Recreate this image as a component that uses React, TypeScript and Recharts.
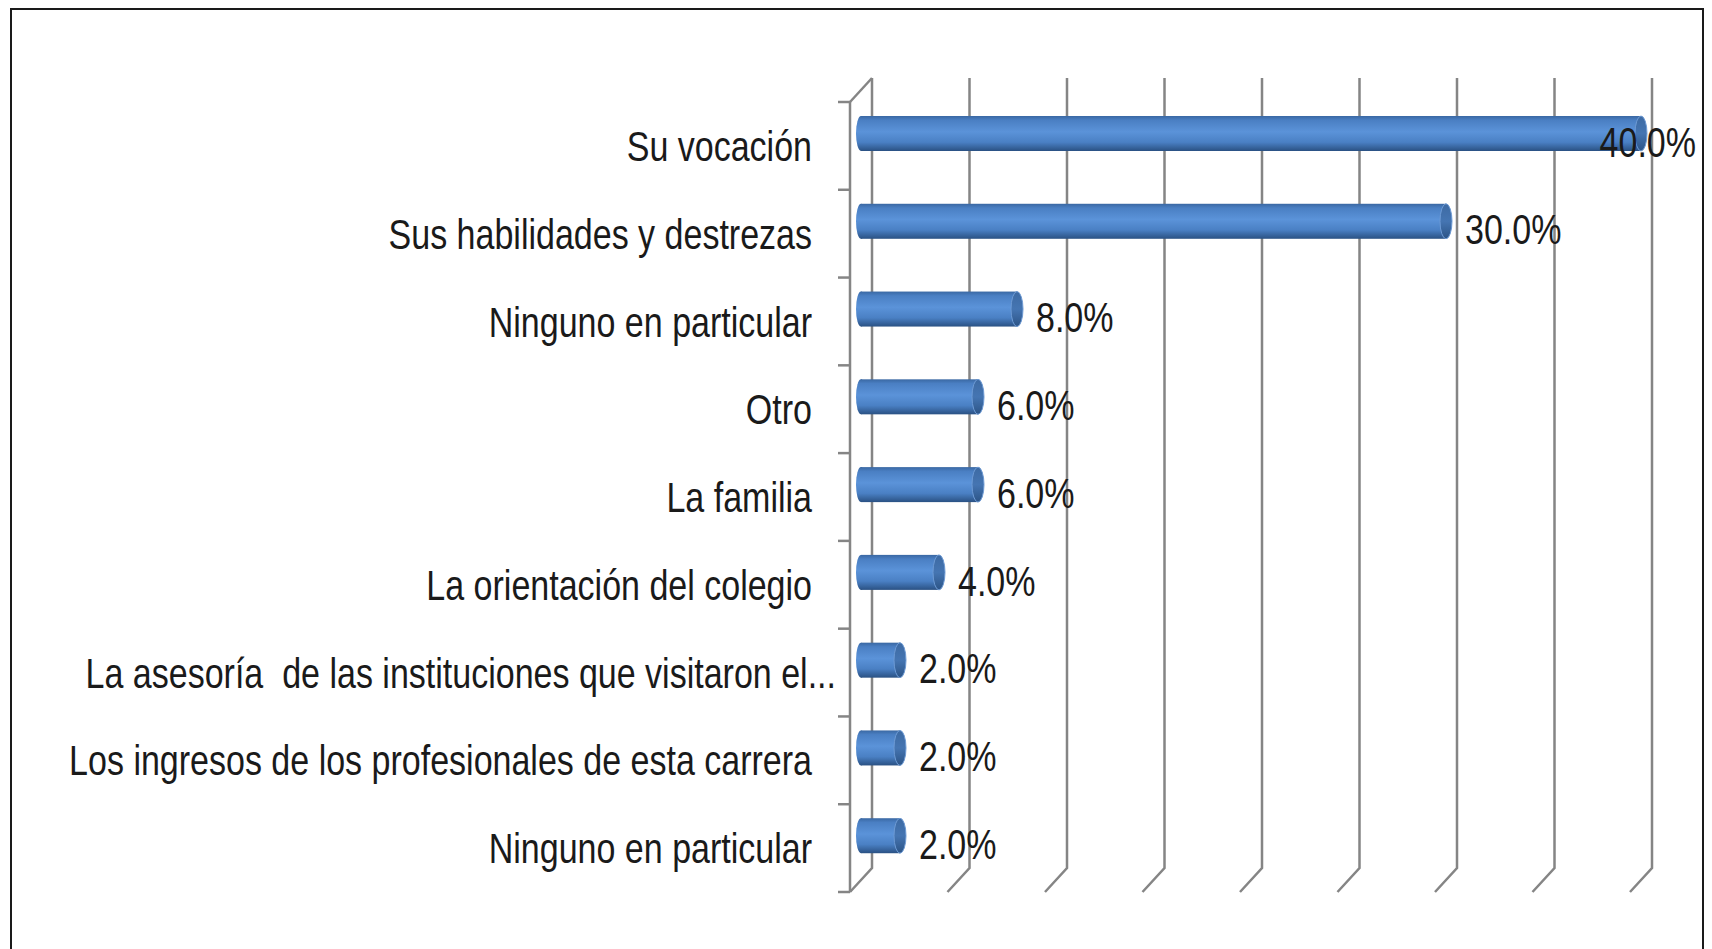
import React from 'react';
import { BarChart, Bar, XAxis, YAxis, CartesianGrid, LabelList } from 'recharts';

const categories = [
  'Su vocación',
  'Sus habilidades y destrezas',
  'Ninguno en particular',
  'Otro',
  'La familia',
  'La orientación del colegio',
  'La asesoría  de las instituciones que visitaron el...',
  'Los ingresos de los profesionales de esta carrera',
  'Ninguno en particular',
];
const values = [40, 30, 8, 6, 6, 4, 2, 2, 2];
const xTicks = [0, 5, 10, 15, 20, 25, 30, 35, 40];

const data = categories.map((name, i) => ({ name, value: values[i] }));

// layout of the "front" plane of the 3D box
const W = 1712;
const H = 949;
const LEFT = 850;
const RIGHT = 1630;
const TOP = 102;
const BOTTOM = 892;
const BAND = (BOTTOM - TOP) / categories.length;
// depth offset to the back wall
const DX = 22;
const DY = 24;
const BAR_SHIFT_X = DX / 2;
const BAR_SHIFT_Y = DY / 2;

const FONT = '"Liberation Sans", Arial, sans-serif';
const SQUEEZE = 0.81; // the source font is a condensed one
const GRID = '#858585';

const GridLine = (p: any) => {
  const { x1, y1, y2, index } = p;
  const bx = x1 + DX;
  return (
    <g key={`g-${index}`}>
      <path d={`M${bx},${y1 - DY}L${bx},${y2 - DY}L${x1},${y2}`} fill="none" stroke={GRID} strokeWidth={2.5} />
      {index === 0 && <path d={`M${x1},${y1}L${bx},${y1 - DY}`} fill="none" stroke={GRID} strokeWidth={2.5} />}
    </g>
  );
};

const CatTick = (p: any) => {
  const { y, payload, index } = p;
  const top = y - BAND / 2;
  // truncated labels use the full label box, up to the tick marks
  const endX = String(payload.value).endsWith('...') ? LEFT - 14 : LEFT - 38;
  return (
    <g>
      <line x1={LEFT - 12} x2={LEFT} y1={top} y2={top} stroke={GRID} strokeWidth={2.5} />
      {index === categories.length - 1 && (
        <line x1={LEFT - 12} x2={LEFT} y1={top + BAND} y2={top + BAND} stroke={GRID} strokeWidth={2.5} />
      )}
      <text
        transform={`translate(${endX},${y}) scale(${SQUEEZE},1)`}
        dy="0.36em"
        textAnchor="end"
        fontFamily={FONT}
        fontSize={42}
        fill="#1a1a1a"
        style={{ whiteSpace: 'pre' }}
      >
        {payload.value}
      </text>
    </g>
  );
};

const Cylinder = (p: any) => {
  const { x, y, width, height } = p;
  if (!width || width <= 0) return null;
  const x0 = x + BAR_SHIFT_X;
  const x1 = x0 + width;
  const y0 = y - BAR_SHIFT_Y;
  const ry = height / 2;
  const cy = y0 + ry;
  return (
    <g>
      <ellipse cx={x0} cy={cy} rx={5} ry={ry} fill="url(#cylBody)" />
      <rect x={x0} y={y0} width={width} height={height} fill="url(#cylBody)" />
      <ellipse cx={x1} cy={cy} rx={6} ry={ry} fill="url(#cylEnd)" stroke="#6d9ad4" strokeWidth={1} />
    </g>
  );
};

const ValueLabel = (p: any) => {
  const { x, y, width, height, value } = p;
  const text = `${Number(value).toFixed(1)}%`;
  const start = x + width + 30;
  const estW = text.length * 18.8;
  const clamp = start + estW > W - 15;
  const tx = clamp ? W - 16 : start;
  return (
    <text
      transform={`translate(${tx},${y + height / 2 - 4}) scale(${SQUEEZE},1)`}
      dy="0.36em"
      textAnchor={clamp ? 'end' : 'start'}
      fontFamily={FONT}
      fontSize={42}
      fill="#1a1a1a"
    >
      {text}
    </text>
  );
};

export default function App() {
  return (
    <div style={{ position: 'absolute', left: 0, top: 0, width: W, height: H, overflow: 'hidden', background: '#fff' }}>
      <div
        style={{
          position: 'absolute',
          left: 10,
          top: 8,
          width: 1694,
          height: 1000,
          border: '2px solid #1a1a1a',
          boxSizing: 'border-box',
        }}
      />
      <div style={{ position: 'absolute', left: 0, top: 0 }}>
        <BarChart
          width={W}
          height={H}
          data={data}
          layout="vertical"
          margin={{ top: TOP, right: W - RIGHT, bottom: H - BOTTOM, left: 0 }}
        >
          <defs>
            <linearGradient id="cylBody" x1="0" y1="0" x2="0" y2="1">
              <stop offset="0" stopColor="#3a68a3" />
              <stop offset="0.12" stopColor="#4a7fc3" />
              <stop offset="0.45" stopColor="#5b93d9" />
              <stop offset="0.75" stopColor="#4a80c4" />
              <stop offset="1" stopColor="#2a5183" />
            </linearGradient>
            <linearGradient id="cylEnd" x1="0" y1="0" x2="0" y2="1">
              <stop offset="0" stopColor="#3d6aa3" />
              <stop offset="0.5" stopColor="#4575b2" />
              <stop offset="1" stopColor="#2c5486" />
            </linearGradient>
          </defs>
          <CartesianGrid horizontal={false} vertical={(p: any) => <GridLine {...p} />} />
          <XAxis type="number" domain={[0, 40]} ticks={xTicks} hide />
          <YAxis
            type="category"
            dataKey="name"
            width={LEFT}
            axisLine={{ stroke: GRID, strokeWidth: 2.5 }}
            tickLine={false}
            tick={(p: any) => <CatTick {...p} />}
            interval={0}
          />
          <Bar dataKey="value" barSize={35} isAnimationActive={false} shape={(p: any) => <Cylinder {...p} />}>
            <LabelList dataKey="value" content={(p: any) => <ValueLabel {...p} />} />
          </Bar>
        </BarChart>
      </div>
    </div>
  );
}
